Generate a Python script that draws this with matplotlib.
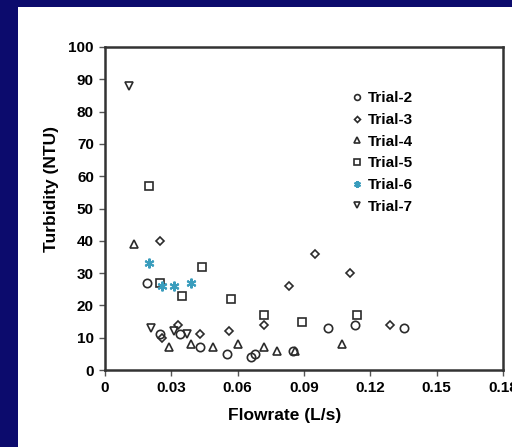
import matplotlib
matplotlib.use('Agg')
import matplotlib.pyplot as plt
from matplotlib.patches import Rectangle

plt.rcParams['font.family'] = ['Liberation Sans', 'DejaVu Sans']

# data (flowrate L/s, turbidity NTU)
trial2_x = [0.019, 0.025, 0.034, 0.043, 0.055, 0.066, 0.068, 0.085, 0.101, 0.113, 0.135]
trial2_y = [27, 11, 11, 7, 5, 4, 5, 6, 13, 14, 13]

trial3_x = [0.025, 0.026, 0.033, 0.043, 0.056, 0.072, 0.083, 0.095, 0.111, 0.129]
trial3_y = [40, 10, 14, 11, 12, 14, 26, 36, 30, 14]

trial4_x = [0.013, 0.029, 0.039, 0.049, 0.060, 0.072, 0.078, 0.086, 0.107]
trial4_y = [39, 7, 8, 7, 8, 7, 6, 6, 8]

trial5_x = [0.020, 0.025, 0.035, 0.044, 0.057, 0.072, 0.089, 0.114]
trial5_y = [57, 27, 23, 32, 22, 17, 15, 17]

trial6_x = [0.020, 0.026, 0.031, 0.039]
trial6_y = [33, 26, 26, 27]

trial7_x = [0.011, 0.021, 0.031, 0.037]
trial7_y = [88, 13, 12, 11]

xticks = [0, 0.03, 0.06, 0.09, 0.12, 0.15, 0.18]
xticklabels = ['0', '0.03', '0.06', '0.09', '0.12', '0.15', '0.18']
yticks = [0, 10, 20, 30, 40, 50, 60, 70, 80, 90, 100]

edge = '#2b2b2b'
navy = '#0c0b6d'

fig = plt.figure(figsize=(5.12, 4.47), dpi=100)
fig.patch.set_facecolor(navy)
# white slide panel behind the chart
fig.patches.append(Rectangle((18 / 512, 0), 1 - 18 / 512, 440 / 447,
                             transform=fig.transFigure, facecolor='white',
                             edgecolor='none', zorder=-10))

ax = fig.add_axes([105 / 512, 77 / 447, 398 / 512, 323 / 447])
ax.set_facecolor('white')

ms = 6
ax.plot(trial2_x, trial2_y, 'o', ms=ms, mfc='none', mec=edge, mew=1.2, label='Trial-2', clip_on=False)
ax.plot(trial3_x, trial3_y, 'D', ms=4.3, mfc='none', mec=edge, mew=1.2, label='Trial-3', clip_on=False)
ax.plot(trial4_x, trial4_y, '^', ms=ms, mfc='none', mec=edge, mew=1.2, label='Trial-4', clip_on=False)
ax.plot(trial5_x, trial5_y, 's', ms=ms, mfc='none', mec=edge, mew=1.2, label='Trial-5', clip_on=False)
ax.plot(trial6_x, trial6_y, marker=(6, 2, 0), ls='none', ms=ms + 1, mec='#3a9dbd', mew=1.5, label='Trial-6', clip_on=False)
ax.plot(trial7_x, trial7_y, 'v', ms=ms, mfc='none', mec=edge, mew=1.2, label='Trial-7', clip_on=False)

ax.set_xlim(0, 0.18)
ax.set_ylim(0, 100)
ax.set_xticks(xticks)
ax.set_xticklabels(xticklabels)
ax.set_yticks(yticks)
ax.tick_params(direction='out', length=4, width=1, color='#555555',
               labelsize=11, pad=4, top=False, right=False)
for lbl in ax.get_xticklabels() + ax.get_yticklabels():
    lbl.set_fontweight('bold')
for s in ax.spines.values():
    s.set_color('#333333')
    s.set_linewidth(1.8)

ax.set_xlabel('Flowrate (L/s)', fontsize=12.5, fontweight='bold', va='center')
ax.xaxis.set_label_coords(0.452, -0.142)
ax.set_ylabel('Turbidity (NTU)', fontsize=12.5, fontweight='bold', va='center')
ax.yaxis.set_label_coords(-0.135, 0.56)

leg = ax.legend(loc='upper left', bbox_to_anchor=(0.575, 0.905), frameon=False,
                prop={'weight': 'bold', 'size': 11},
                handletextpad=0.1, labelspacing=0.5, markerscale=0.7,
                handlelength=1.2)

fig.savefig('out.png', dpi=100, facecolor=navy)
